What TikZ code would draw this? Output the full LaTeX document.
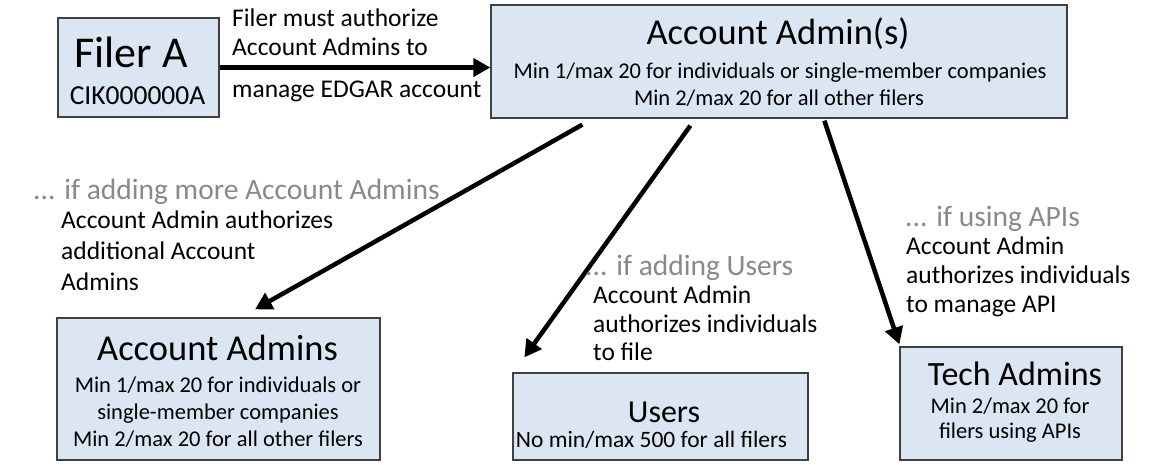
\documentclass[tikz,border=0pt]{standalone}
\usepackage{fontspec}
\setmainfont{Carlito}
\usetikzlibrary{arrows.meta}

\definecolor{boxfill}{RGB}{220,230,242}
\definecolor{boxline}{RGB}{64,64,64}
\definecolor{hintgray}{RGB}{137,137,137}

\tikzset{
  box/.style={rectangle, draw=boxline, line width=1.3pt, fill=boxfill, inner sep=0pt},
  flow/.style={line width=4.5pt, -{Triangle[length=17pt,width=18pt]}},
  ttl/.style={inner sep=0pt, anchor=base, font=\fontsize{#1}{#1}\selectfont},
  sub/.style={inner sep=0pt, anchor=base, font=\fontsize{22.5}{27}\selectfont},
  txt/.style={inner sep=0pt, anchor=base west, font=\fontsize{25.5}{30}\selectfont},
  hint/.style={txt, text=hintgray, font=\fontsize{29.5}{34}\selectfont},
}

\begin{document}
\begin{tikzpicture}[x=1pt,y=-1pt]
    \useasboundingbox (0,0) rectangle (1172,464);

    % Filer
    \node[box, minimum width=161pt, minimum height=99pt] (filer) at (138.5,67.5) {};
    \node[ttl=44] (filername) at (131,67) {Filer A};
    \node[sub, font=\fontsize{27.5}{30}\selectfont] (filercik) at (137.5,104) {CIK000000A};

    % Account Admin(s)
    \node[box, minimum width=576pt, minimum height=113pt] (admins) at (779,61.5) {};
    \node[ttl=36.5] (adminsname) at (778,44) {Account Admin(s)};
    \node[sub] (adminsrulea) at (780,78) {Min 1/max 20 for individuals or single-member companies};
    \node[sub] (adminsruleb) at (779,105) {Min 2/max 20 for all other filers};

    % Account Admins
    \node[box, minimum width=323pt, minimum height=142pt] (moreadmins) at (218.5,389) {};
    \node[ttl=36.5] (moreadminsname) at (217.5,360) {Account Admins};
    \node[sub] (moreadminsrulea) at (218,392) {Min 1/max 20 for individuals or};
    \node[sub] (moreadminsruleb) at (218,419) {single-member companies};
    \node[sub] (moreadminsrulec) at (218,446) {Min 2/max 20 for all other filers};

    % Users
    \node[box, minimum width=295pt, minimum height=87pt] (users) at (660.5,416.5) {};
    \node[ttl=32] (usersname) at (664,422) {Users};
    \node[sub, font=\fontsize{23.5}{27}\selectfont] (usersrule) at (651.5,447) {No min/max 500 for all filers};

    % Tech Admins
    \node[box, minimum width=222pt, minimum height=113pt] (tech) at (1011,403.5) {};
    \node[ttl=34] (techname) at (1015,385) {Tech Admins};
    \node[sub] (techrulea) at (1010,413) {Min 2/max 20 for};
    \node[sub] (techruleb) at (1010,438) {filers using APIs};

    % Arrows
    \draw[flow] (filer.east) -- (filer.east -| admins.west);
    \draw[flow] ([xshift=92pt,yshift=-6pt]admins.south west) -- ([xshift=36.5pt,yshift=8pt]moreadmins.north);
    \draw[flow] ([xshift=200pt,yshift=-7pt]admins.south west) -- ([xshift=12pt,yshift=15pt]users.north west);
    \draw[flow] ([xshift=334pt,yshift=-2pt]admins.south west) -- ([yshift=2pt]tech.north west);

    % Arrow labels
    \node[txt] (filerlbla) at (232,26) {Filer must authorize};
    \node[txt] (filerlblb) at (232,55) {Account Admins to};
    \node[txt] (filerlblc) at (232,97) {manage EDGAR account};

    \node[hint] (morehint) at (33,199) {... if adding more Account Admins};
    \node[txt] (morelbla) at (61,228) {Account Admin authorizes};
    \node[txt] (morelblb) at (61,259) {additional Account};
    \node[txt] (morelblc) at (61,290) {Admins};

    \node[hint] (usershint) at (585,275) {... if adding Users};
    \node[txt] (userslbla) at (593,303) {Account Admin};
    \node[txt] (userslblb) at (593,332) {authorizes individuals};
    \node[txt] (userslblc) at (593,360) {to file};

    \node[hint] (techhint) at (905,226) {... if using APIs};
    \node[txt] (techlbla) at (906,254) {Account Admin};
    \node[txt] (techlblb) at (906,283) {authorizes individuals};
    \node[txt] (techlblc) at (906,312) {to manage API};
\end{tikzpicture}
\end{document}
